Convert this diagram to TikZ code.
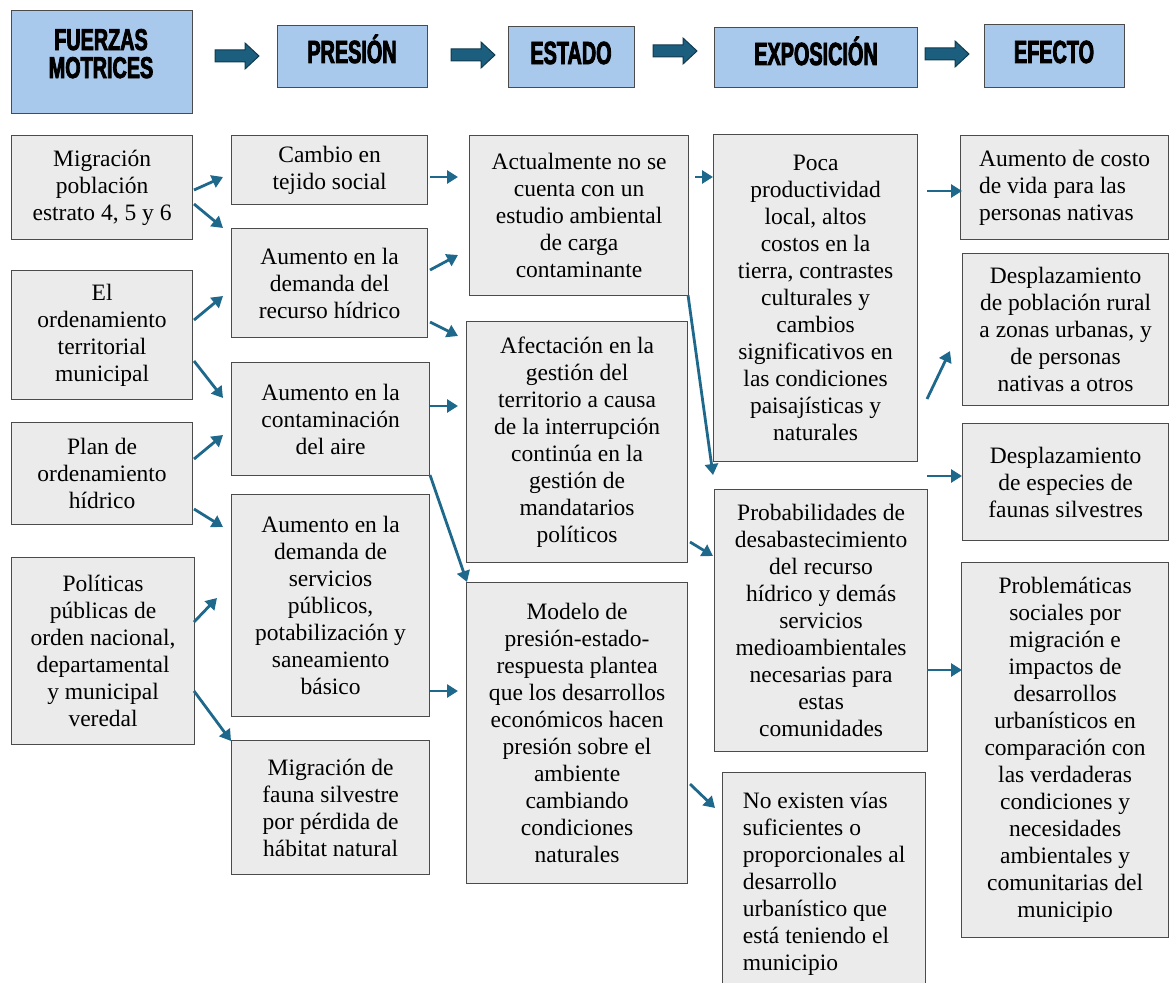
\documentclass[tikz,border=0pt]{standalone}
\usepackage{fontspec}
\setmainfont{Liberation Serif}
\newfontfamily\hdfont{Liberation Sans}[FakeStretch=0.62,BoldFeatures={FakeBold=2.6}]
\newfontfamily\hdfontb{Liberation Sans}[FakeStretch=0.66,BoldFeatures={FakeBold=2.6}]
\usetikzlibrary{arrows.meta}
\definecolor{boxfill}{RGB}{235,235,235}
\definecolor{boxline}{RGB}{75,75,75}
\definecolor{hdfill}{RGB}{168,201,236}
\definecolor{arrowc}{RGB}{30,104,140}
\definecolor{hdarrfill}{RGB}{27,94,126}
\definecolor{hdarrline}{RGB}{18,58,78}
\tikzset{
  bx/.style={draw=boxline, fill=boxfill, line width=1.2pt, inner sep=0pt, anchor=north west, align=center, font=\fontsize{23.5}{27}\selectfont},
  hdbox/.style={draw=boxline, fill=hdfill, line width=1.2pt, inner sep=0pt, anchor=north west},
  hdtext/.style={inner sep=0pt, anchor=base, align=center, font=\hdfont\bfseries\fontsize{32}{28}\selectfont},
  conn/.style={draw=arrowc, line width=2.8pt, -{Triangle[length=11pt,width=13pt]}},
  blockarr/.pic={\draw[fill=hdarrfill, draw=hdarrline, line width=1pt] (0,-6) -- (30,-6) -- (30,-13) -- (44,0) -- (30,13) -- (30,6) -- (0,6) -- cycle;}
}
\begin{document}
\begin{tikzpicture}[x=1pt,y=-1pt]
\useasboundingbox (0,0) rectangle (1169,982);
% header
\node[hdbox, minimum width=181, minimum height=103] (h1) at (11,10) {};
\node[hdtext, font=\hdfontb\bfseries\fontsize{30}{28}\selectfont] (h1t) at (101,78) {FUERZAS\\MOTRICES};
\node[hdbox, minimum width=150, minimum height=62] (h2) at (277,25) {};
\node[hdtext] (h2t) at (352,63) {PRESIÓN};
\node[hdbox, minimum width=126, minimum height=61] (h3) at (508,26) {};
\node[hdtext] (h3t) at (571,64) {ESTADO};
\node[hdbox, minimum width=203, minimum height=60] (h4) at (714,27) {};
\node[hdtext] (h4t) at (816,65) {EXPOSICIÓN};
\node[hdbox, minimum width=140, minimum height=63] (h5) at (984,24) {};
\node[hdtext] (h5t) at (1054,63) {EFECTO};
\pic at (215,56) {blockarr};
\pic at (451,55) {blockarr};
\pic at (653,51) {blockarr};
\pic at (925,54) {blockarr};
% column 1
\node[bx, minimum width=181, minimum height=104] (c1a) at (11,135) {Migración\\población\\estrato 4, 5 y 6};
\node[bx, minimum width=181, minimum height=129] (c1b) at (11,270) {El\\ordenamiento\\territorial\\municipal};
\node[bx, minimum width=181, minimum height=102] (c1c) at (11,422) {Plan de\\ordenamiento\\hídrico};
\node[bx, minimum width=183, minimum height=187] (c1d) at (11,557) {Políticas\\públicas de\\orden nacional,\\departamental\\y municipal\\veredal};
% column 2
\node[bx, minimum width=196, minimum height=69] (c2a) at (231,135) {Cambio en\\tejido social};
\node[bx, minimum width=196, minimum height=109] (c2b) at (231,228) {Aumento en la\\demanda del\\recurso hídrico};
\node[bx, minimum width=198, minimum height=113] (c2c) at (231,362) {Aumento en la\\contaminación\\del aire};
\node[bx, minimum width=198, minimum height=222] (c2d) at (231,494) {Aumento en la\\demanda de\\servicios\\públicos,\\potabilización y\\saneamiento\\básico};
\node[bx, minimum width=198, minimum height=134] (c2e) at (231,740) {Migración de\\fauna silvestre\\por pérdida de\\hábitat natural};
% column 3
\node[bx, minimum width=219, minimum height=160] (c3a) at (469,135) {Actualmente no se\\cuenta con un\\estudio ambiental\\de carga\\contaminante};
\node[bx, minimum width=221, minimum height=241] (c3b) at (466,321) {Afectación en la\\gestión del\\territorio a causa\\de la interrupción\\continúa en la\\gestión de\\mandatarios\\políticos};
\node[bx, minimum width=221, minimum height=301] (c3c) at (466,582) {Modelo de\\presión-estado-\\respuesta plantea\\que los desarrollos\\económicos hacen\\presión sobre el\\ambiente\\cambiando\\condiciones\\naturales};
% column 4
\node[bx, minimum width=204, minimum height=327] (c4a) at (713,134) {Poca\\productividad\\local, altos\\costos en la\\tierra, contrastes\\culturales y\\cambios\\significativos en\\las condiciones\\paisajísticas y\\naturales};
\node[bx, minimum width=213, minimum height=262] (c4b) at (714,489) {Probabilidades de\\desabastecimiento\\del recurso\\hídrico y demás\\servicios\\medioambientales\\necesarias para\\estas\\comunidades};
\node[bx, align=left, minimum width=203, minimum height=222] (c4c) at (722,772) {No existen vías\\suficientes o\\proporcionales al\\desarrollo\\urbanístico que\\está teniendo el\\municipio};
% column 5
\node[bx, align=left, minimum width=208, minimum height=104] (c5a) at (960,135) {Aumento de costo\\de vida para las\\personas nativas};
\node[bx, minimum width=206, minimum height=152] (c5b) at (962,253) {Desplazamiento\\de población rural\\a zonas urbanas, y\\de personas\\nativas a otros};
\node[bx, minimum width=206, minimum height=117] (c5c) at (962,423) {Desplazamiento\\de especies de\\faunas silvestres};
\node[bx, minimum width=207, minimum height=375] (c5d) at (961,562) {Problemáticas\\sociales por\\migración e\\impactos de\\desarrollos\\urbanísticos en\\comparación con\\las verdaderas\\condiciones y\\necesidades\\ambientales y\\comunitarias del\\municipio};
% connector end points
\coordinate (a1s) at (194,190); \coordinate (a1e) at (223,177);
\coordinate (a2s) at (194,204); \coordinate (a2e) at (223,228);
\coordinate (a3s) at (194,320); \coordinate (a3e) at (223,296);
\coordinate (a4s) at (194,361); \coordinate (a4e) at (223,398);
\coordinate (a5s) at (194,459); \coordinate (a5e) at (223,435);
\coordinate (a6s) at (194,509); \coordinate (a6e) at (223,527);
\coordinate (a7s) at (430,177); \coordinate (a7e) at (458,177);
\coordinate (a8s) at (430,270); \coordinate (a8e) at (458,255);
\coordinate (a9s) at (430,322); \coordinate (a9e) at (458,336);
\coordinate (a10s) at (430,406); \coordinate (a10e) at (458,406);
\coordinate (a11s) at (430,475); \coordinate (a11e) at (467,582);
\coordinate (a12s) at (194,622); \coordinate (a12e) at (217,598);
\coordinate (a13s) at (194,691); \coordinate (a13e) at (231,741);
\coordinate (a14s) at (430,691); \coordinate (a14e) at (458,691);
\coordinate (a15s) at (695,177); \coordinate (a15e) at (713,177);
\coordinate (a16s) at (688,295); \coordinate (a16e) at (713,475);
\coordinate (a17s) at (690,542); \coordinate (a17e) at (713,556);
\coordinate (a18s) at (690,784); \coordinate (a18e) at (715,808);
\coordinate (a19s) at (927,191); \coordinate (a19e) at (962,191);
\coordinate (a20s) at (927,399); \coordinate (a20e) at (950,351);
\coordinate (a21s) at (927,476); \coordinate (a21e) at (962,476);
\coordinate (a22s) at (927,670); \coordinate (a22e) at (962,670);
\foreach \k in {1,...,22} {\draw[conn] (a\k s) -- (a\k e);}
\end{tikzpicture}
\end{document}
